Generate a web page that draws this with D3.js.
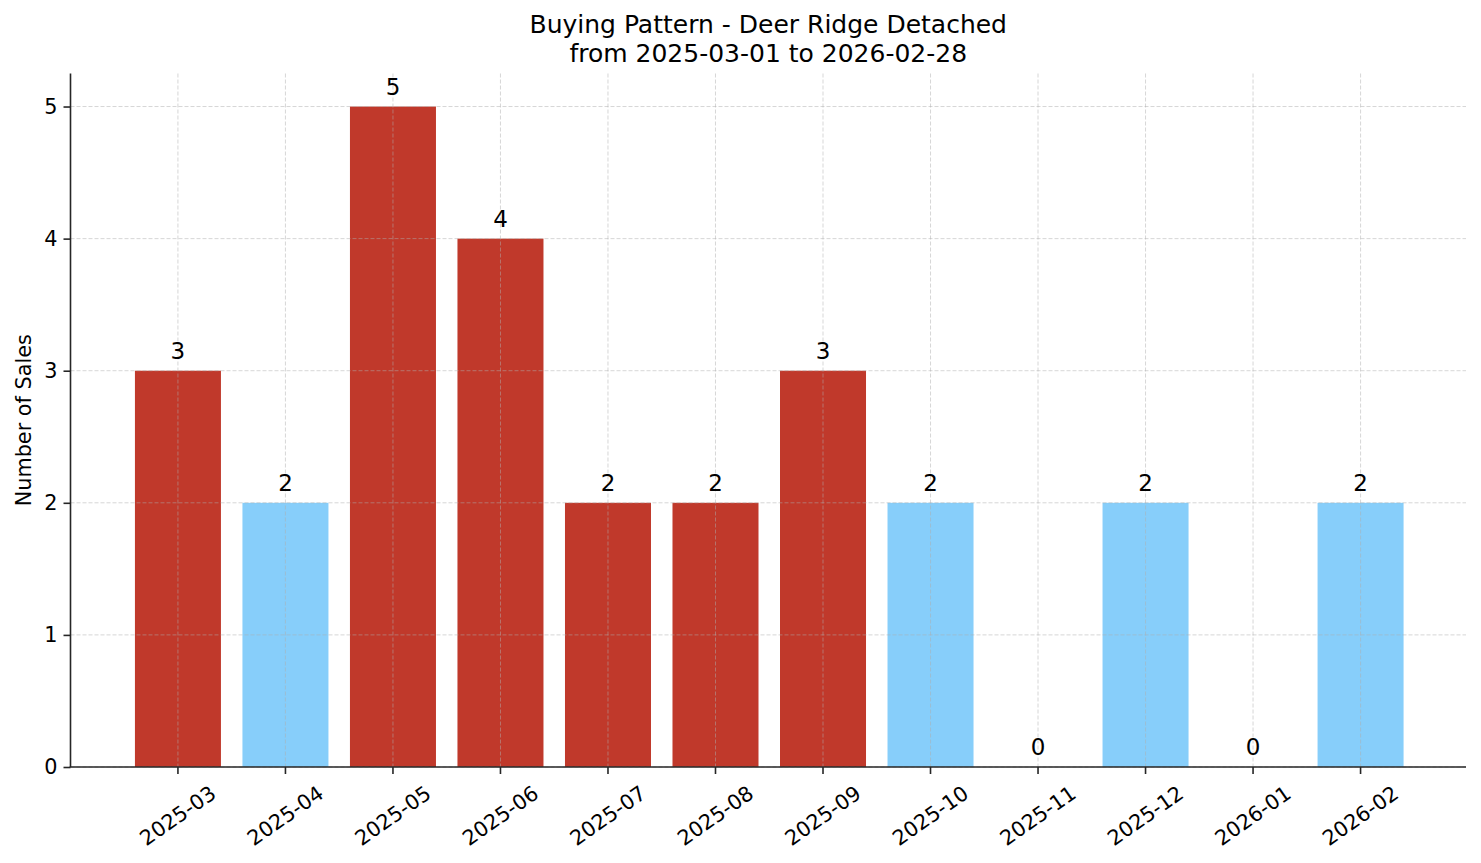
<!DOCTYPE html>
<html>
<head>
<meta charset="utf-8">
<script src="https://cdn.jsdelivr.net/npm/d3@7"></script>
<style>
  body { margin: 0; background: #fff; }
  text { font-family: "DejaVu Sans", sans-serif; fill: #000; }
</style>
</head>
<body>
<div id="chart"></div>
<script>
var months = ['2025-03', '2025-04', '2025-05', '2025-06', '2025-07', '2025-08',
              '2025-09', '2025-10', '2025-11', '2025-12', '2026-01', '2026-02'],
    sales = [3, 2, 5, 4, 2, 2, 3, 2, 0, 2, 0, 2],
    // which bars are drawn red, the rest light blue
    highlight = [true, false, true, true, true, true, true, false, false, false, false, false],
    yTicks = [0, 1, 2, 3, 4, 5],
    titleLines = ['Buying Pattern - Deer Ridge Detached', 'from 2025-03-01 to 2026-02-28'],
    yLabel = 'Number of Sales';

var W = 1481, H = 863,
    plotLeft = 70.5, plotRight = 1466, plotTop = 73.5, plotBottom = 767,
    RED = '#c0392b', BLUE = '#87cefa', SPINE = '#262626';

var svg = d3.select('#chart').append('svg')
    .attr('width', W)
    .attr('height', H);

// band layout matching matplotlib's bar width 0.8 and 5% margins
var x = d3.scaleBand()
    .domain(months)
    .range([plotLeft + 1, plotRight + 1])
    .paddingInner(0.2)
    .paddingOuter(0.59);

var y = d3.scaleLinear()
    .domain([0, 5.25])
    .range([plotBottom, plotTop]);

function cx(d) { return x(d) + x.bandwidth() / 2; }

// bars
svg.selectAll('rect.bar')
    .data(months)
    .enter()
    .append('rect')
    .attr('class', 'bar')
    .attr('x', function (d) { return x(d); })
    .attr('width', x.bandwidth())
    .attr('y', function (d, i) { return y(sales[i]); })
    .attr('height', function (d, i) { return y(0) - y(sales[i]); })
    .style('fill', function (d, i) { return highlight[i] ? RED : BLUE; });

// grid on top of the bars, like matplotlib does
var grid = svg.append('g')
    .style('stroke', '#b0b0b0')
    .style('stroke-opacity', 0.5)
    .style('stroke-width', 1)
    .style('stroke-dasharray', '4,2');
grid.selectAll('line.h')
    .data(yTicks)
    .enter()
    .append('line')
    .attr('x1', plotLeft).attr('x2', plotRight)
    .attr('y1', function (d) { return y(d); })
    .attr('y2', function (d) { return y(d); });
grid.selectAll('line.v')
    .data(months)
    .enter()
    .append('line')
    .attr('x1', cx)
    .attr('x2', cx)
    .attr('y1', plotTop).attr('y2', plotBottom);

// value labels
svg.selectAll('text.val')
    .data(months)
    .enter()
    .append('text')
    .attr('class', 'val')
    .attr('x', cx)
    .attr('y', function (d, i) { return y(sales[i]) - 12; })
    .attr('text-anchor', 'middle')
    .style('font-size', '23px')
    .text(function (d, i) { return sales[i]; });

// y axis
var yAxis = svg.append('g')
    .attr('transform', 'translate(' + plotLeft + ',0)')
    .call(d3.axisLeft(y).tickValues(yTicks).tickSize(7).tickPadding(6).tickFormat(d3.format('d')));
yAxis.select('.domain').remove();
yAxis.selectAll('.tick line').style('stroke', SPINE).style('stroke-width', 1.6);
yAxis.selectAll('.tick text')
    .style('font-family', '"DejaVu Sans", sans-serif')
    .style('font-size', '20.8px')
    .style('fill', '#000');

// x axis
var xAxis = svg.append('g')
    .attr('transform', 'translate(0,' + plotBottom + ')')
    .call(d3.axisBottom(x).tickSize(7).tickFormat(''));
xAxis.select('.domain').remove();
xAxis.selectAll('.tick line').style('stroke', SPINE).style('stroke-width', 1.6);

// rotated tick labels, bbox centred on the tick like matplotlib's ha='center'
var rot = 35 * Math.PI / 180,
    fs = 20.8,
    labelTop = plotBottom + 7 + 7;
svg.selectAll('text.xlab')
    .data(months)
    .enter()
    .append('text')
    .attr('class', 'xlab')
    .attr('text-anchor', 'middle')
    .attr('dominant-baseline', 'central')
    .style('font-size', fs + 'px')
    .text(function (d) { return d; })
    .attr('transform', function (d) {
        var w = this.getComputedTextLength(),
            h = fs * 1.16,
            bh = w * Math.sin(rot) + h * Math.cos(rot);
        return 'translate(' + cx(d) + ',' + (labelTop + bh / 2) + ') rotate(-35)';
    });

// spines
svg.append('line')
    .attr('x1', plotLeft).attr('x2', plotLeft)
    .attr('y1', plotTop).attr('y2', plotBottom)
    .style('stroke', SPINE).style('stroke-width', 1.6);
svg.append('line')
    .attr('x1', plotLeft - 0.8).attr('x2', plotRight)
    .attr('y1', plotBottom).attr('y2', plotBottom)
    .style('stroke', SPINE).style('stroke-width', 1.6);

// y label
svg.append('text')
    .attr('transform', 'translate(31,' + ((plotTop + plotBottom) / 2) + ') rotate(-90)')
    .attr('text-anchor', 'middle')
    .style('font-size', '20.8px')
    .text(yLabel);

// title
svg.selectAll('text.title')
    .data(titleLines)
    .enter()
    .append('text')
    .attr('class', 'title')
    .attr('x', (plotLeft + plotRight) / 2)
    .attr('y', function (d, i) { return 33 + i * 29; })
    .attr('text-anchor', 'middle')
    .style('font-size', '25px')
    .text(function (d) { return d; });
</script>
</body>
</html>
